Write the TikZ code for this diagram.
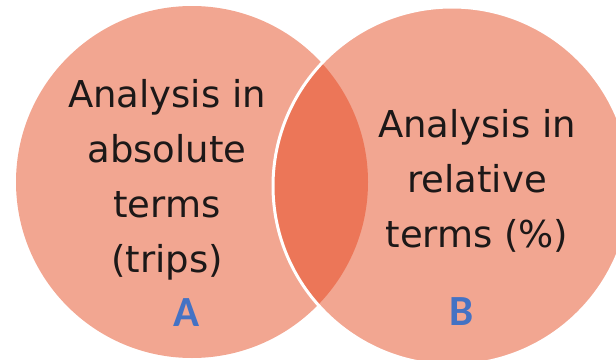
\documentclass[tikz,border=0pt]{standalone}
\usepackage{fontspec}
\setmainfont{DejaVu Sans}
\newfontfamily\letterfont{Carlito}
\definecolor{setlight}{RGB}{242,166,145}
\definecolor{setdark}{RGB}{236,118,88}
\definecolor{letterblue}{RGB}{68,114,196}
\definecolor{textdark}{RGB}{28,24,24}
\begin{document}
\begin{tikzpicture}[x=1pt, y=-1pt,
	setlabel/.style={font=\fontsize{37}{55}\selectfont, text=textdark, align=center, anchor=base, inner sep=0pt},
	setletter/.style={font=\letterfont\bfseries\fontsize{43}{43}\selectfont, text=letterblue, anchor=base, inner sep=0pt}]
		\useasboundingbox (0,0) rectangle (616,359);
		% Sets A and B
		\fill[setlight] (192,182) circle (176pt);
		\fill[setlight] (452,186) circle (179pt);
		% Overlap
		\begin{scope}
			\clip (192,182) circle (176pt);
			\fill[setdark] (452,186) circle (179pt);
		\end{scope}
		\draw[white, line width=3pt] (452,186) circle (179pt);
		% base is the last line
		\node[setlabel] (absText) at (167,272) {Analysis in\\absolute\\terms\\(trips)};
		\node[setlabel] (relText) at (477,247) {Analysis in\\relative\\terms (\%)};
		\node[setletter] (setA) at (187,326) {A};
		\node[setletter] (setB) at (462,325) {B};
	\end{tikzpicture}
\end{document}
